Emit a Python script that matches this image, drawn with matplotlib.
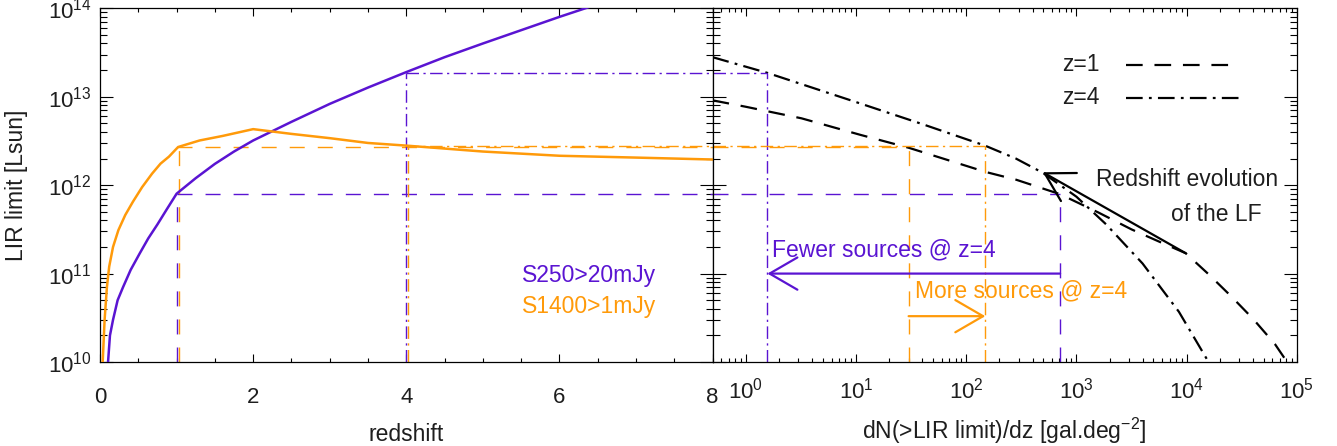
import numpy as np
import matplotlib
matplotlib.use("Agg")
import matplotlib.pyplot as plt
from matplotlib.ticker import MultipleLocator, LogLocator, LogFormatterMathtext, NullFormatter
import matplotlib.transforms as mtransforms

# fonts: Helvetica-like look
plt.rcParams['font.family'] = ['Liberation Sans', 'DejaVu Sans']
plt.rcParams['mathtext.fontset'] = 'custom'
plt.rcParams['mathtext.rm'] = 'Liberation Sans'
plt.rcParams['mathtext.it'] = 'Liberation Sans:italic'
plt.rcParams['mathtext.bf'] = 'Liberation Sans:bold'
plt.rcParams['lines.scale_dashes'] = False

# ---- data ----
# LIR limit vs redshift, S250 > 20 mJy
s250_z = [0.105, 0.13, 0.17, 0.23, 0.30, 0.40, 0.52, 0.63, 0.75, 0.87, 1.0, 1.25, 1.5, 1.75,
          2.0, 2.5, 3.0, 3.5, 4.0, 4.5, 5.0, 6.0, 7.0, 8.0]
s250_L = [1e10, 2e10, 3e10, 5e10, 7e10, 1.1e11, 1.7e11, 2.5e11, 3.6e11, 5.3e11, 8e11, 1.2e12,
          1.74e12, 2.4e12, 3.2e12, 5.2e12, 8.3e12, 1.27e13, 1.9e13, 2.8e13, 4e13, 8e13,
          1.55e14, 3e14]

# LIR limit vs redshift, S1400 > 1 mJy
s1400_z = [0.035, 0.06, 0.09, 0.12, 0.17, 0.24, 0.33, 0.43, 0.55, 0.68, 0.79, 0.9, 1.02, 1.3,
           1.6, 2.0, 2.5, 3.0, 3.5, 4.0, 5.0, 6.0, 7.0, 8.0]
s1400_L = [1e10, 3e10, 7e10, 1.2e11, 2e11, 3.1e11, 4.6e11, 6.5e11, 9.5e11, 1.35e12, 1.75e12,
           2.1e12, 2.7e12, 3.2e12, 3.6e12, 4.3e12, 3.8e12, 3.4e12, 3.0e12, 2.8e12, 2.4e12,
           2.15e12, 2.05e12, 1.95e12]

# cumulative counts dN(>LIR)/dz at z=1 and z=4
lf_z1_N = [0.5, 1.0, 3.2, 11, 30, 150, 285, 711, 1585, 3160, 5620, 9800, 15850, 25100,
           39800, 63100, 79400, 1e5]
lf_z1_L = [9.1e12, 7.7e12, 5.7e12, 3.7e12, 2.65e12, 1.41e12, 1.15e12, 7.9e11, 4.9e11, 3.16e11,
           2.3e11, 1.7e11, 9.8e10, 5.6e10, 3.1e10, 1.6e10, 1.05e10, 7e9]
lf_z4_N = [0.5, 1.57, 10, 40, 148, 282, 495, 1000, 1860, 3980, 8500, 15800, 20000]
lf_z4_L = [2.8e13, 1.86e13, 8.7e12, 4.9e12, 2.8e12, 2.0e12, 1.38e12, 7.4e11, 3.6e11, 1.3e11,
           3.7e10, 1e10, 6.3e9]

# the two redshifts and the limits / counts at each
z_ref = [1, 4]
L250_ref = [8e11, 1.86e13]
L1400_ref = [2.7e12, 2.8e12]
N250_ref = [711, 1.57]
N1400_ref = [30, 149]

# redshift evolution arrow (z=1 curve -> z=4 curve)
evo_tail = (9800, 1.7e11)
evo_head = (495, 1.4e12)

purple = '#5a14d2'
orange = '#ff9a0a'
tcol = '#1e1e1e'

dash = (10.8, 9.4)
dashdot = (9, 3.2, 1.6, 3.2)
kdash = (12, 8.5)
kdashdot = (12, 4.5, 2, 4.5)

fig = plt.figure(figsize=(13.37, 4.46), dpi=100)
axL = fig.add_axes([0.0748, 0.1883, 0.4582, 0.7931])
axR = fig.add_axes([0.5330, 0.1883, 0.4370, 0.7931])

ylo, yhi = 1e10, 1e14

# ---- left panel ----
axL.plot(s250_z, s250_L, color=purple, lw=1.8, zorder=3)
axL.plot(s1400_z, s1400_L, color=orange, lw=1.8, zorder=3)

# orange guide lines drawn a hair to the right so both stay visible
shift = mtransforms.offset_copy(axL.transData, fig=fig, x=2, y=0, units='dots')
styles = [dash, dashdot]
for i, z in enumerate(z_ref):
    axL.plot([z, z], [ylo, L250_ref[i]], color=purple, lw=1.0, dashes=styles[i])
    axL.plot([z, 8], [L250_ref[i], L250_ref[i]], color=purple, lw=1.0, dashes=styles[i])
    axL.plot([z, z], [ylo, L1400_ref[i]], color=orange, lw=1.0, dashes=styles[i], transform=shift)
    axL.plot([z, 8], [L1400_ref[i], L1400_ref[i]], color=orange, lw=1.0, dashes=styles[i])

axL.set_xlim(0, 8)
axL.set_yscale('log')
axL.set_ylim(ylo, yhi)
axL.xaxis.set_major_locator(MultipleLocator(2))
axL.xaxis.set_minor_locator(MultipleLocator(0.5))
axL.yaxis.set_major_locator(LogLocator(base=10, numticks=10))
axL.yaxis.set_minor_locator(LogLocator(base=10, subs=np.arange(2, 10), numticks=20))
axL.yaxis.set_major_formatter(LogFormatterMathtext())
axL.yaxis.set_minor_formatter(NullFormatter())

axL.text(0.688, 0.246, 'S250>20mJy', transform=axL.transAxes, color=purple,
         fontsize=16.5, ha='left', va='center')
axL.text(0.688, 0.156, 'S1400>1mJy', transform=axL.transAxes, color=orange,
         fontsize=16.5, ha='left', va='center')

axL.set_xlabel('redshift', fontsize=16.5, color=tcol, labelpad=11)
axL.set_ylabel('LIR limit [Lsun]', fontsize=16.5, color=tcol)
axL.yaxis.set_label_coords(-0.118, 0.5)

# ---- right panel ----
axR.plot(lf_z1_N, lf_z1_L, color='black', lw=1.6, dashes=kdash)
axR.plot(lf_z4_N, lf_z4_L, color='black', lw=1.6, dashes=kdashdot)

for i in range(len(z_ref)):
    axR.plot([0.5, N250_ref[i]], [L250_ref[i], L250_ref[i]], color=purple, lw=1.0, dashes=styles[i])
    axR.plot([N250_ref[i], N250_ref[i]], [ylo, L250_ref[i]], color=purple, lw=1.0, dashes=styles[i])
    axR.plot([0.5, N1400_ref[i]], [L1400_ref[i], L1400_ref[i]], color=orange, lw=1.0, dashes=styles[i])
    axR.plot([N1400_ref[i], N1400_ref[i]], [ylo, L1400_ref[i]], color=orange, lw=1.0, dashes=styles[i])

head = dict(arrowstyle='->,head_length=1.0,head_width=0.58', mutation_scale=20, shrinkA=0, shrinkB=0)
axR.annotate('', xy=(N250_ref[1], 1e11), xytext=(N250_ref[0], 1e11),
             arrowprops=dict(color=purple, lw=1.6, **head))
axR.annotate('', xy=(N1400_ref[1], 3.3e10), xytext=(N1400_ref[0], 3.3e10),
             arrowprops=dict(color=orange, lw=1.6, **head))
axR.annotate('', xy=evo_head, xytext=evo_tail,
             arrowprops=dict(color='black', lw=1.6, **head))

axR.text(1.73, 1.86e11, 'Fewer sources @ z=4', color=purple, fontsize=16.5, ha='left', va='center')
axR.text(34, 6.3e10, 'More sources @ z=4', color=orange, fontsize=16.5, ha='left', va='center')

# key for the two curves
axR.text(0.599, 0.840, 'z=1', transform=axR.transAxes, fontsize=16.5, color=tcol, ha='left', va='center')
axR.text(0.599, 0.747, 'z=4', transform=axR.transAxes, fontsize=16.5, color=tcol, ha='left', va='center')
axR.plot([0.708, 0.893], [0.840, 0.840], transform=axR.transAxes, color='black', lw=1.6, dashes=kdash)
axR.plot([0.708, 0.905], [0.747, 0.747], transform=axR.transAxes, color='black', lw=1.6, dashes=kdashdot)

axR.text(0.657, 0.517, 'Redshift evolution', transform=axR.transAxes, fontsize=16.5, color=tcol,
         ha='left', va='center')
axR.text(0.784, 0.416, 'of the LF', transform=axR.transAxes, fontsize=16.5, color=tcol,
         ha='left', va='center')

axR.set_xscale('log')
axR.set_yscale('log')
axR.set_xlim(0.5, 1e5)
axR.set_ylim(ylo, yhi)
axR.xaxis.set_major_locator(LogLocator(base=10, numticks=10))
axR.xaxis.set_minor_locator(LogLocator(base=10, subs=np.arange(2, 10), numticks=20))
axR.xaxis.set_major_formatter(LogFormatterMathtext())
axR.xaxis.set_minor_formatter(NullFormatter())
axR.yaxis.set_major_locator(LogLocator(base=10, numticks=10))
axR.yaxis.set_minor_locator(LogLocator(base=10, subs=np.arange(2, 10), numticks=20))
axR.yaxis.set_major_formatter(NullFormatter())
axR.yaxis.set_minor_formatter(NullFormatter())
axR.set_xlabel('dN(>LIR limit)/dz [gal.deg$^{-2}$]', fontsize=16.5, color=tcol, labelpad=9)

# IDL-style inward ticks on all four sides
for ax in (axL, axR):
    for sp in ax.spines.values():
        sp.set_linewidth(0.9)
    ax.tick_params(which='both', direction='in', top=True, right=True, width=0.8,
                   labelsize=16, labelcolor=tcol)
    ax.tick_params(axis='x', which='major', length=6)
    ax.tick_params(axis='x', which='minor', length=3)
    ax.tick_params(axis='y', which='major', length=9.5)
    ax.tick_params(axis='y', which='minor', length=4.8)
axL.tick_params(axis='x', which='major', pad=18)
axR.tick_params(axis='x', which='major', pad=11)
axL.tick_params(axis='y', which='major', pad=6)

fig.savefig('out.png', dpi=100)
